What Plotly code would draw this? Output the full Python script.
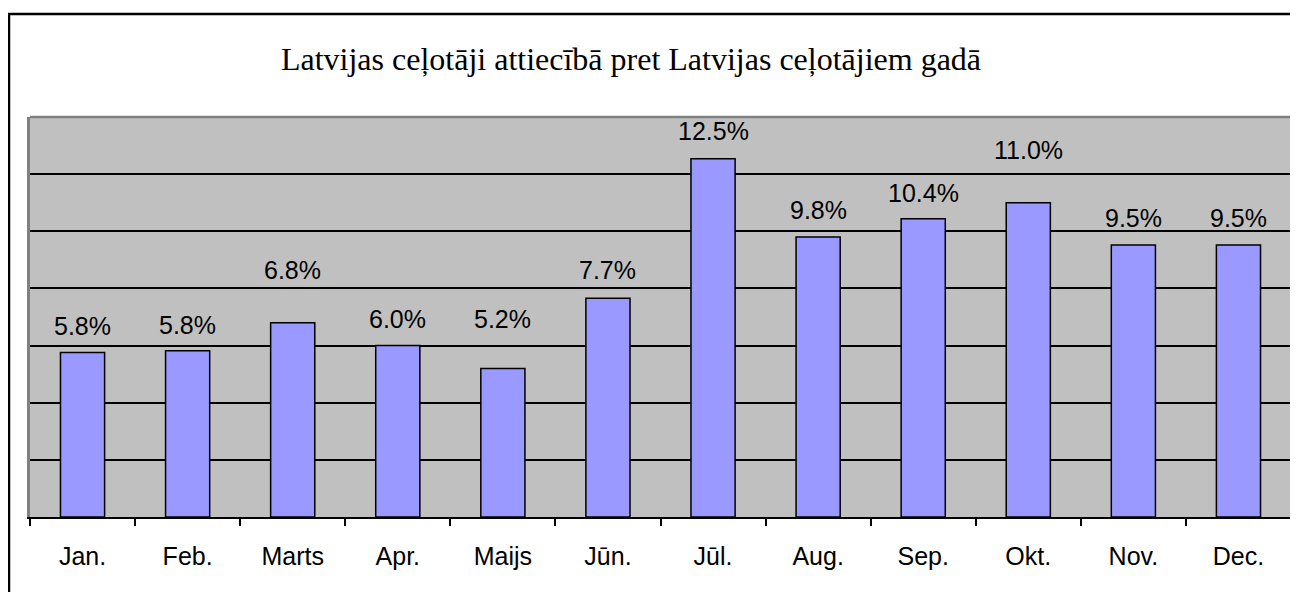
import plotly.graph_objects as go

months = ["Jan.", "Feb.", "Marts", "Apr.", "Maijs", "Jūn.", "Jūl.", "Aug.", "Sep.", "Okt.", "Nov.", "Dec."]
share_pct = [5.76, 5.82, 6.80, 6.00, 5.20, 7.66, 12.54, 9.80, 10.44, 11.00, 9.52, 9.52]
label_shift = [26, 26, 53, 27, 49, 28, 28, 27, 26, 53, 27, 27]

title_text = "Latvijas ceļotāji attiecībā pret Latvijas ceļotājiem gadā"

fig = go.Figure()
fig.add_trace(go.Bar(
    x=months, y=share_pct,
    marker=dict(color="#9999FF", line=dict(color="black", width=1.5)),
    width=0.42, hoverinfo="skip",
))

annotations = []
for m, v, s in zip(months, share_pct, label_shift):
    annotations.append(dict(
        x=m, y=v, xref="x", yref="y", text=f"{v:.1f}%", showarrow=False,
        yanchor="middle", yshift=s,
        font=dict(family="Liberation Sans, Arial, sans-serif", size=25, color="black"),
    ))

# the page has an 8px body margin, so figure coords = page coords - 8
W, H = 1298, 592
ml, mr, mt, mb = 22, 15, 109, 83
pw, ph = W - ml - mr, H - mt - mb

def px_x(p):
    return (p - ml) / pw

def px_y(p):
    return (H - mb - p) / ph

shapes = [
    # outer chart border (cut by the window edge on right/bottom)
    dict(type="rect", xref="paper", yref="paper",
         x0=px_x(1), x1=px_x(1320), y0=px_y(6), y1=px_y(620),
         line=dict(color="black", width=2.5), fillcolor="rgba(0,0,0,0)", layer="above"),
    # grey top border of plot area
    dict(type="line", xref="paper", yref="paper", x0=0, x1=1, y0=1, y1=1,
         line=dict(color="#808080", width=2.5), layer="above"),
]

fig.update_layout(
    width=W, height=H,
    margin=dict(l=ml, r=mr, t=mt, b=mb, pad=0),
    paper_bgcolor="white", plot_bgcolor="#C0C0C0",
    showlegend=False,
    title=dict(text=title_text, x=623 / W, xref="container", xanchor="center",
               y=1 - 51 / H, yref="container", yanchor="middle",
               font=dict(family="Liberation Serif, Times New Roman, serif", size=32, color="black")),
    xaxis=dict(type="category", range=[-0.5, 11.5], showgrid=False,
               showline=True, linecolor="black", linewidth=2,
               ticks="outside", tickson="boundaries", ticklen=7, tickwidth=1.5, tickcolor="black",
               ticklabelstandoff=16,
               tickfont=dict(family="Liberation Sans, Arial, sans-serif", size=25, color="black")),
    yaxis=dict(range=[0, 14], tickvals=[2, 4, 6, 8, 10, 12], showticklabels=False,
               showgrid=True, gridcolor="black", gridwidth=1.5, zeroline=False,
               showline=True, linecolor="#808080", linewidth=2.5, mirror=True, ticks=""),
    annotations=annotations,
    shapes=shapes,
)

fig.write_html("out.html")
